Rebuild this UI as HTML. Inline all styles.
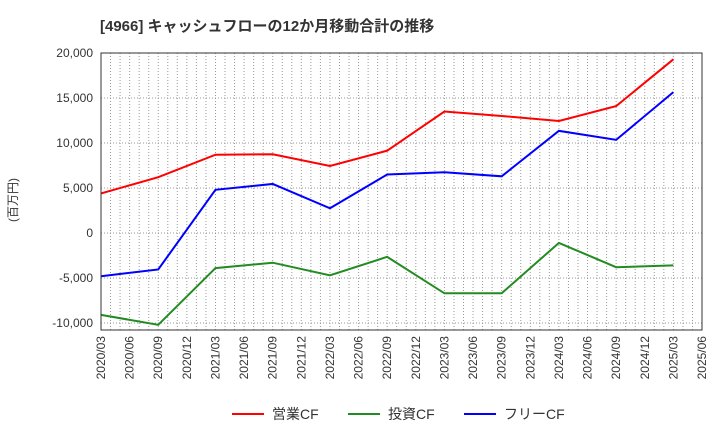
<!DOCTYPE html>
<html><head><meta charset="utf-8"><style>body{margin:0;background:#fff}svg{display:block;font-family:"Liberation Sans","Noto Sans CJK JP",sans-serif}</style></head>
<body>
<svg id="c" width="720" height="440" xmlns="http://www.w3.org/2000/svg">
<text x="100" y="31" font-size="15" font-weight="bold" fill="#333">[4966]  キャッシュフローの12か月移動合計の推移</text>
<text transform="translate(17,200) rotate(-90)" font-size="12" fill="#333" text-anchor="middle">(百万円)</text>
<g id="grid"></g><g id="series"></g><g id="axes"></g>
<g>
<g><line x1="232" y1="414" x2="264" y2="414" stroke="#f00" stroke-width="2"/><text x="272" y="419" font-size="14" fill="#333">営業CF</text></g>
<g><line x1="348" y1="414" x2="380" y2="414" stroke="#228b22" stroke-width="2"/><text x="388" y="419" font-size="14" fill="#333">投資CF</text></g>
<g><line x1="464" y1="414" x2="496" y2="414" stroke="#00f" stroke-width="2"/><text x="504" y="419" font-size="14" fill="#333">フリーCF</text></g>
</g>
</svg>
<script>
const dates=["2020/03","2020/09","2021/03","2021/09","2022/03","2022/09","2023/03","2023/09","2024/03","2024/09","2025/03"];
const operatingCF=[4400,6200,8700,8750,7450,9150,13500,13000,12450,14100,19300];
const investingCF=[-9100,-10200,-3900,-3300,-4700,-2650,-6700,-6700,-1100,-3800,-3600];
const freeCF=[-4800,-4050,4800,5450,2750,6500,6750,6300,11350,10350,15650];
const yTicks=[20000,15000,10000,5000,0,-5000,-10000];
const xTicks=["2020/03","2020/06","2020/09","2020/12","2021/03","2021/06","2021/09","2021/12","2022/03","2022/06","2022/09","2022/12","2023/03","2023/06","2023/09","2023/12","2024/03","2024/06","2024/09","2024/12","2025/03","2025/06"];
const NS="http://www.w3.org/2000/svg";
const L=101,R=702,T=53,B=330;
const m0=2020*12+2, m1=2025*12+5;
function mon(s){const [y,m]=s.split("/").map(Number);return y*12+m-1;}
function xs(s){return L+(mon(s)-m0)/(m1-m0)*(R-L);}
function ys(v){return 233-v*45/5000;}
function mk(t,a,p){const e=document.createElementNS(NS,t);for(const k in a)e.setAttribute(k,a[k]);p.appendChild(e);return e;}
const grid=document.getElementById("grid"),axes=document.getElementById("axes"),ser=document.getElementById("series");
for(let m=m0+1;m<m1;m++){const x=L+(m-m0)/(m1-m0)*(R-L);const e=mk("line",{x1:x,x2:x,y1:T,y2:B,stroke:"#999","stroke-dasharray":"1,2","stroke-width":1},grid);

}
yTicks.forEach(v=>{const y=ys(v);const e=mk("line",{x1:L,x2:R,y1:y,y2:y,stroke:"#999","stroke-dasharray":"1,2"},grid);


const t=mk("text",{x:L-8,y:y+4,"font-size":12,fill:"#333","text-anchor":"end"},axes);t.textContent=v.toLocaleString("en-US");

});
const fr=mk("rect",{x:L,y:T,width:R-L,height:B-T,fill:"none",stroke:"#333"},axes);


xTicks.forEach(s=>{const x=xs(s);const t=mk("text",{transform:`translate(${x+4},${B+6}) rotate(-90)`,"font-size":12,fill:"#333","text-anchor":"end"},axes);t.textContent=s;

});
[[operatingCF,"#f00","operating-cf-line"],[investingCF,"#228b22","investing-cf-line"],[freeCF,"#00f","free-cf-line"]].forEach(([d,c,n])=>{
const p=mk("polyline",{points:d.map((v,i)=>xs(dates[i])+","+ys(v)).join(" "),fill:"none",stroke:c,"stroke-width":2},ser);

});
</script>
</body></html>
